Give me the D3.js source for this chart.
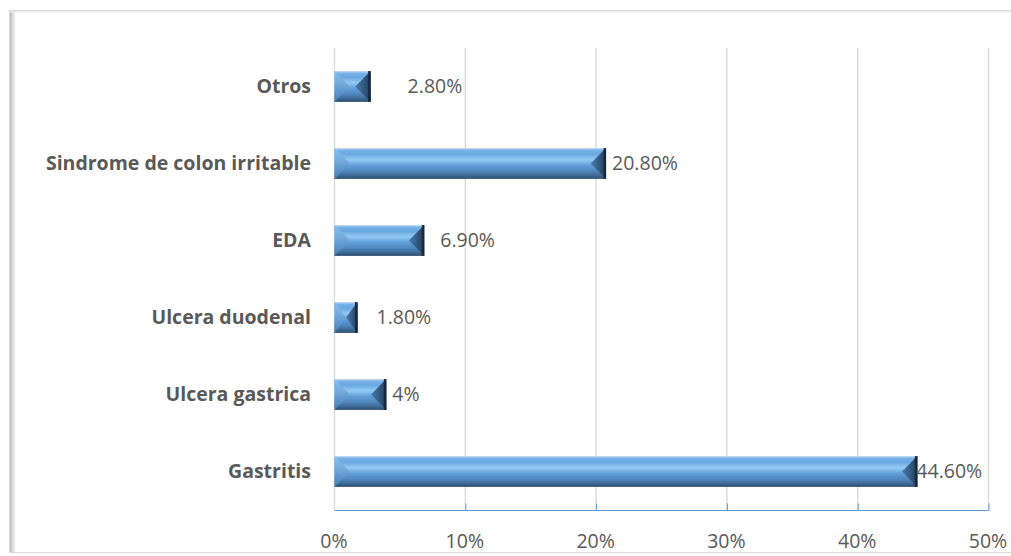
<!DOCTYPE html>
<html>
<head>
<meta charset="utf-8">
<script src="https://cdn.jsdelivr.net/npm/d3@7"></script>
<style>
  body { margin: 0; background: #fff; }
  svg { display: block; }
  text { font-family: "Open Sans", "Noto Sans", sans-serif; fill: #595959; }
</style>
</head>
<body>
<div id="chart"></div>
<script>
// data, top to bottom as drawn
var categories = ["Otros", "Sindrome de colon irritable", "EDA", "Ulcera duodenal", "Ulcera gastrica", "Gastritis"];
var values = [2.8, 20.8, 6.9, 1.8, 4, 44.6];
var valueLabels = ["2.80%", "20.80%", "6.90%", "1.80%", "4%", "44.60%"];
var xTicks = [0, 10, 20, 30, 40, 50];
// label nudges (px) — the labels sit at uneven distances in the original
var labelDx = [37, 6, 16, 19, 6, -1];

var width = 1011,
    height = 556;

var margin = { top: 48, right: 23, bottom: 46, left: 334 };

var svg = d3.select("#chart").append("svg")
    .attr("width", width)
    .attr("height", height);

var defs = svg.append("defs");

function vGrad(id, stops, horiz) {
  var g = defs.append("linearGradient")
      .attr("id", id)
      .attr("x1", 0).attr("y1", 0)
      .attr("x2", horiz ? 1 : 0).attr("y2", horiz ? 0 : 1);
  stops.forEach(function(s) { g.append("stop").attr("offset", s[0]).attr("stop-color", s[1]); });
}

vGrad("barGrad", [["0%", "#bcd6ee"], ["8%", "#75b0e6"], ["20%", "#6aa8e2"], ["38%", "#93cbf7"],
                  ["55%", "#62a1dc"], ["75%", "#4f86bd"], ["90%", "#3c6791"], ["100%", "#2d4d6e"]]);
vGrad("leftGrad", [["0%", "#8cc2ee"], ["100%", "#4a82b8"]]);
vGrad("rightGrad", [["0%", "#4a7cad"], ["100%", "#223d5a"]], true);
vGrad("shadow", [["0%", "#bdbdbd"], ["100%", "#ffffff"]], true);

// chart frame
svg.append("rect")
    .attr("x", 9.5).attr("y", 10.5)
    .attr("width", 1010).attr("height", 542)
    .attr("fill", "#fff")
    .attr("stroke", "#d9d9d9");
svg.append("rect")
    .attr("x", 10).attr("y", 11)
    .attr("width", 6).attr("height", 541)
    .attr("fill", "url(#shadow)");
svg.append("rect")
    .attr("x", 10).attr("y", 11)
    .attr("width", 1001).attr("height", 1.5)
    .attr("fill", "#ececec");

var x = d3.scaleLinear()
    .domain([0, 50])
    .range([margin.left, width - margin.right]);

var y = d3.scaleBand()
    .domain(categories)
    .range([margin.top, height - margin.bottom])
    .paddingInner(0.6)
    .paddingOuter(0.3);

// gridlines
svg.append("g")
    .selectAll("line")
    .data(xTicks)
  .enter().append("line")
    .attr("x1", function(d) { return x(d) + 0.5; })
    .attr("x2", function(d) { return x(d) + 0.5; })
    .attr("y1", margin.top)
    .attr("y2", height - margin.bottom)
    .attr("stroke", "#d9d9d9")
    .attr("stroke-width", 1.3);

// x axis
var xAxis = svg.append("g")
    .attr("transform", "translate(0," + (height - margin.bottom + 0.5) + ")")
    .call(d3.axisTop(x)
      .tickValues(xTicks)
      .tickSize(7)
      .tickFormat(""));
xAxis.select(".domain").attr("stroke", "#5b9bd5").attr("d", "M" + (x(0) + 0.5) + ",0H" + (x(50) + 0.5));
xAxis.selectAll(".tick line").attr("stroke", "#5b9bd5").attr("transform", "translate(0.5,0)");
xAxis.selectAll(".tick").filter(function(d) { return d === 0; }).remove();

svg.append("g")
    .selectAll("text")
    .data(xTicks)
  .enter().append("text")
    .attr("x", function(d) { return x(d); })
    .attr("y", 548)
    .attr("text-anchor", "middle")
    .style("font-size", "19.5px")
    .text(function(d) { return d + "%"; });

// bars with a bevel look
var bars = svg.append("g")
    .selectAll("g")
    .data(values)
  .enter().append("g");

bars.each(function(v, i) {
  var g = d3.select(this);
  var x0 = x(0) + 0.5, x1 = x(v);
  var y0 = y(categories[i]), h = y.bandwidth(), y1 = y0 + h, ym = y0 + h / 2;
  var bev = Math.min(h / 2, (x1 - x0) / 2);

  g.append("rect")
      .attr("x", x0).attr("y", y0)
      .attr("width", x1 - x0).attr("height", h)
      .attr("fill", "url(#barGrad)");

  // left facet
  g.append("path")
      .attr("d", "M" + x0 + "," + y0 + "L" + (x0 + bev) + "," + ym + "L" + x0 + "," + y1 + "Z")
      .attr("fill", "url(#leftGrad)")
      .attr("opacity", 0.9);

  // right facet
  g.append("path")
      .attr("d", "M" + x1 + "," + y0 + "L" + (x1 - bev) + "," + ym + "L" + x1 + "," + y1 + "Z")
      .attr("fill", "url(#rightGrad)");
  g.append("rect")
      .attr("x", x1 - 2.5).attr("y", y0)
      .attr("width", 2.5).attr("height", h)
      .attr("fill", "#19293b");
});

// category labels
svg.append("g")
    .selectAll("text")
    .data(categories)
  .enter().append("text")
    .attr("x", 311)
    .attr("y", function(d) { return y(d) + y.bandwidth() / 2; })
    .attr("dy", "0.35em")
    .attr("text-anchor", "end")
    .style("font-size", "19.5px")
    .style("font-weight", "bold")
    .text(function(d) { return d; });

// value labels
svg.append("g")
    .selectAll("text")
    .data(values)
  .enter().append("text")
    .attr("x", function(d, i) { return x(d) + labelDx[i]; })
    .attr("y", function(d, i) { return y(categories[i]) + y.bandwidth() / 2; })
    .attr("dy", "0.35em")
    .style("font-size", "19.5px")
    .text(function(d, i) { return valueLabels[i]; });
</script>
</body>
</html>
